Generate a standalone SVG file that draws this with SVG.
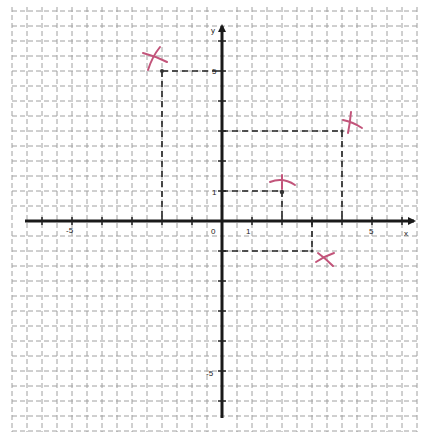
<svg xmlns="http://www.w3.org/2000/svg" width="427" height="436" viewBox="0 0 427 436">
<style>
.grid{stroke:#a0a0a0;stroke-width:1;stroke-dasharray:5 3;fill:none}
.axis{stroke:#1a1a1a;stroke-width:3;fill:none}
.tick{stroke:#222;stroke-width:1.5}
.dash{stroke:#222;stroke-width:1.6;stroke-dasharray:6 4;fill:none}
.mark{stroke:#c2547a;stroke-width:2;stroke-linecap:round;fill:none}
.dot{fill:#333}
text{font-family:"Liberation Sans",Arial,sans-serif;font-size:8px;fill:#222}
</style>
<defs>
<marker id="ah" markerWidth="8" markerHeight="8" refX="6" refY="4" orient="auto" markerUnits="userSpaceOnUse">
<path d="M0,0 L8,4 L0,8 Z" fill="#1a1a1a"/>
</marker>
</defs>
<rect width="427" height="436" fill="#fff"/>
<g id="grid">
<path class="grid" d="M12 7V432M27 7V432M42 7V432M57 7V432M72 7V432M87 7V432M102 7V432M117 7V432M132 7V432M147 7V432M162 7V432M177 7V432M192 7V432M207 7V432M237 7V432M252 7V432M267 7V432M282 7V432M297 7V432M312 7V432M327 7V432M342 7V432M357 7V432M372 7V432M387 7V432M402 7V432M417 7V432"/>
<path class="grid" d="M12 11H420M12 26H420M12 41H420M12 56H420M12 71H420M12 86H420M12 101H420M12 116H420M12 131H420M12 146H420M12 161H420M12 176H420M12 191H420M12 206H420M12 236H420M12 251H420M12 266H420M12 281H420M12 296H420M12 311H420M12 326H420M12 341H420M12 356H420M12 371H420M12 386H420M12 401H420M12 416H420M12 431H420"/>
</g>
<g id="axes">
<line class="axis" x1="25" y1="221" x2="414" y2="221" marker-end="url(#ah)"/>
<line class="axis" x1="222" y1="418" x2="222" y2="26" marker-end="url(#ah)"/>
<path class="tick" d="M42 217V225M72 217V225M102 217V225M132 217V225M162 217V225M192 217V225M252 217V225M282 217V225M312 217V225M342 217V225M372 217V225M402 217V225"/>
<path class="tick" d="M218 41H226M218 71H226M218 101H226M218 131H226M218 161H226M218 191H226M218 251H226M218 281H226M218 311H226M218 341H226M218 371H226M218 401H226"/>
<text x="211" y="33">y</text>
<text x="404" y="236">x</text>
<text x="66" y="233">-5</text>
<text x="211" y="234">0</text>
<text x="246" y="234">1</text>
<text x="369" y="234">5</text>
<text x="212" y="74">5</text>
<text x="212" y="195">1</text>
<text x="206" y="376">-5</text>
</g>
<g id="connectors">
<path class="dash" d="M162 71H222M162 71V221"/>
<path class="dash" d="M222 191H282M282 191V221"/>
<path class="dash" d="M222 131H342M342 131V221"/>
<path class="dash" d="M222 251H312M312 221V251"/>
</g>
<g id="point-a">
<circle class="dot" cx="162" cy="71" r="2"/>
<path class="mark" d="M143 53Q155 56 167 62M160 47Q152 57 148 70"/>
</g>
<g id="point-b">
<circle class="dot" cx="282" cy="192" r="2.2"/>
<path class="mark" d="M270 182Q283 177 295 185M282 175V189"/>
</g>
<g id="point-c">
<circle class="dot" cx="342" cy="131" r="1.6"/>
<path class="mark" d="M343 120Q353 122 362 128M351 112Q350 123 348 133"/>
</g>
<g id="point-d">
<circle class="dot" cx="312" cy="251" r="1.6"/>
<path class="mark" d="M316 262Q325 256 334 253M318 253Q326 259 333 266"/>
</g>
</svg>
